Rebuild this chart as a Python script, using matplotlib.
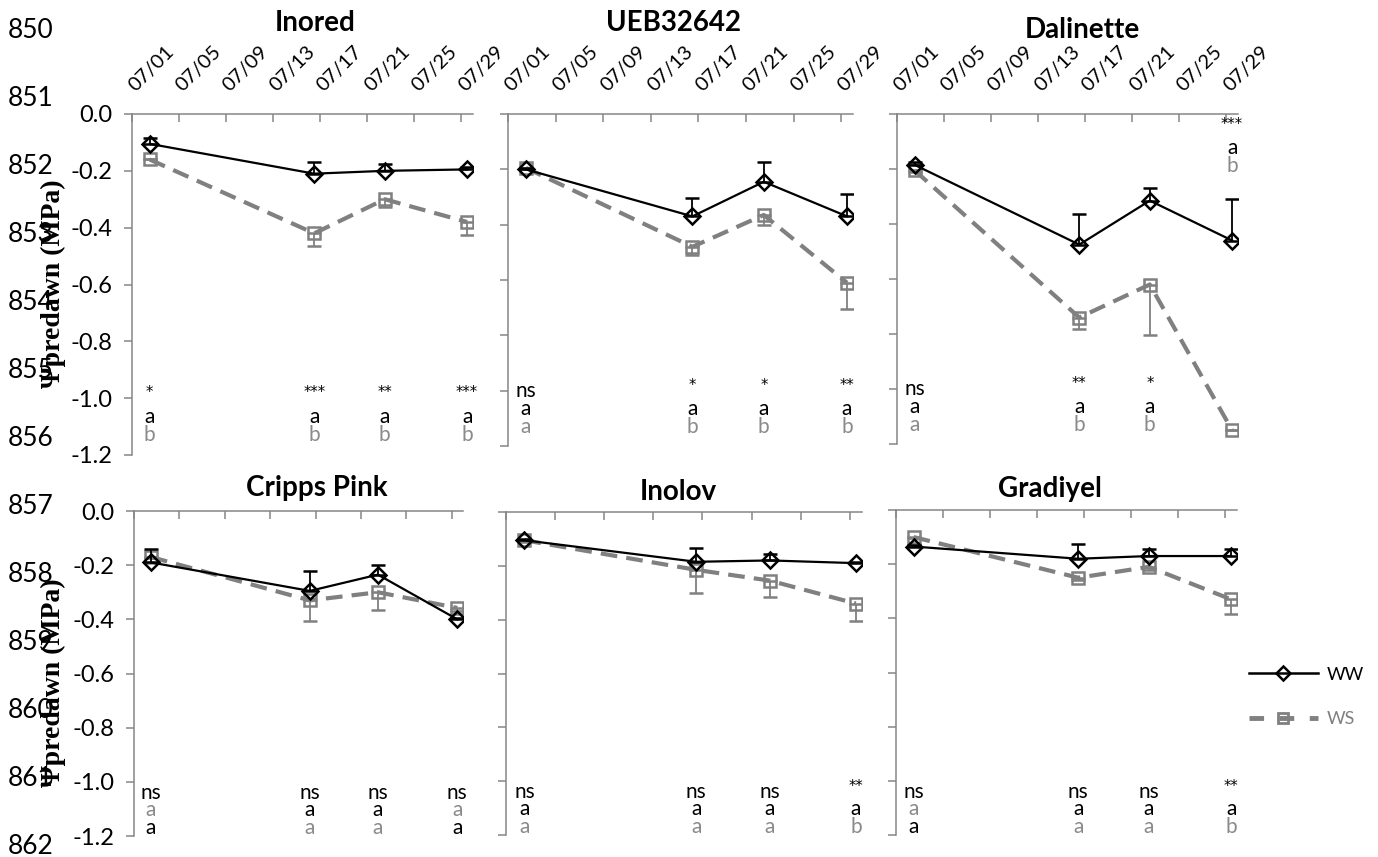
import numpy as np
import matplotlib.pyplot as plt
import matplotlib.transforms as mtransforms
from matplotlib.lines import Line2D

plt.rcParams['font.family'] = ['Lato', 'DejaVu Sans']

# ---- data -------------------------------------------------------------
cultivars = ['Inored', 'UEB32642', 'Dalinette', 'Cripps Pink', 'Inolov', 'Gradiyel']
days = [2, 16, 22, 29]                      # sampling dates, day of July
tick_days = [1, 5, 9, 13, 17, 21, 25, 29]
tick_labels = ['07/01', '07/05', '07/09', '07/13', '07/17', '07/21', '07/25', '07/29']
y_ticks = [0.0, -0.2, -0.4, -0.6, -0.8, -1.0, -1.2]

ww_mean = [[-0.105, -0.21, -0.20, -0.195],
           [-0.20, -0.37, -0.245, -0.37],
           [-0.185, -0.475, -0.315, -0.46],
           [-0.19, -0.295, -0.235, -0.40],
           [-0.105, -0.185, -0.18, -0.19],
           [-0.135, -0.18, -0.17, -0.17]]
ww_err = [[0.02, 0.04, 0.025, 0.01],
          [0.005, 0.065, 0.07, 0.08],
          [0.01, 0.11, 0.045, 0.15],
          [0.048, 0.075, 0.035, 0.005],
          [0.005, 0.05, 0.025, 0.005],
          [0.005, 0.055, 0.025, 0.025]]
ws_mean = [[-0.16, -0.42, -0.30, -0.38],
           [-0.195, -0.48, -0.365, -0.61],
           [-0.205, -0.74, -0.62, -1.15],
           [-0.17, -0.33, -0.30, -0.358],
           [-0.105, -0.215, -0.255, -0.34],
           [-0.10, -0.25, -0.21, -0.33]]
ws_err = [[0.0, 0.045, 0.028, 0.045],
          [0.005, 0.03, 0.035, 0.095],
          [0.005, 0.04, 0.185, 0.0],
          [0.005, 0.075, 0.065, 0.01],
          [0.005, 0.085, 0.06, 0.065],
          [0.005, 0.01, 0.01, 0.055]]

signif = [['*', '***', '**', '***'],
          ['ns', '*', '*', '**'],
          ['ns', '**', '*', '***'],
          ['ns', 'ns', 'ns', 'ns'],
          ['ns', 'ns', 'ns', '**'],
          ['ns', 'ns', 'ns', '**']]
ww_letter = [['a', 'a', 'a', 'a']] * 6
ws_letter = [['b', 'b', 'b', 'b'],
             ['a', 'b', 'b', 'b'],
             ['a', 'b', 'b', 'b'],
             ['a', 'a', 'a', 'a'],
             ['a', 'a', 'a', 'b'],
             ['a', 'a', 'a', 'b']]
ws_listed_first = [[False] * 4,
                   [False] * 4,
                   [False] * 4,
                   [True, False, False, True],
                   [False] * 4,
                   [True, False, False, False]]

line_numbers = [str(n) for n in range(850, 863)]

# ---- layout -----------------------------------------------------------
W, H = 1378, 857
panel_px = [(132, 114, 473, 455), (508, 114, 853, 446), (897, 114, 1238, 444),
            (134, 511, 463, 836), (506, 512, 862, 835), (896, 510, 1237, 835)]
title_px = [(315, 23), (673, 23), (1082, 30), (317, 488), (678, 492), (1050, 489)]
row_label_y = [-1.0, -1.04]       # height of the significance line per row
label_override = {(2, 3): -0.06}  # Dalinette last date is labelled above
step = 0.065

BLACK = '#000000'
GREY = '#808080'
LETTER_GREY = '#8a8a8a'
AXIS = '#868686'


def px_rect(x0, y0, x1, y1):
    return [x0 / W, 1 - y1 / H, (x1 - x0) / W, (y1 - y0) / H]


fig = plt.figure(figsize=(W / 100, H / 100), dpi=100)

for i, name in enumerate(cultivars):
    ax = fig.add_axes(px_rect(*panel_px[i]))
    row, col = divmod(i, 3)

    ax.errorbar(days, ws_mean[i], yerr=[ws_err[i], np.zeros(4)],
                color=GREY, lw=3, dashes=(4, 2.2), marker='s', ms=8.5,
                mfc='none', mec=GREY, mew=1.8, ecolor=GREY, elinewidth=1.3,
                capsize=5, capthick=1.3, zorder=2)
    ax.errorbar(days, ww_mean[i], yerr=[np.zeros(4), ww_err[i]],
                color=BLACK, lw=1.6, marker='D', ms=8.5, mfc='none',
                mec=BLACK, mew=1.8, ecolor=BLACK, elinewidth=1.3,
                capsize=5, capthick=1.3, zorder=3)

    ax.set_xlim(0.5, 29.5)
    ax.set_ylim(-1.2, 0)
    for s in ['right', 'bottom']:
        ax.spines[s].set_visible(False)
    for s in ['left', 'top']:
        ax.spines[s].set_color(AXIS)
        ax.spines[s].set_linewidth(1.1)

    # date axis along the top, ticks on the slot edges
    ax.xaxis.tick_top()
    ax.set_xticks([d - 0.5 for d in tick_days])
    ax.set_xticklabels([])
    ax.tick_params(axis='x', direction='in', length=6, width=1.1, color=AXIS)
    if row == 0:
        trans = mtransforms.blended_transform_factory(ax.transData, ax.transAxes)
        trans = trans + mtransforms.ScaledTranslation(4 / 100, 22 / 100, fig.dpi_scale_trans)
        for d, lab in zip(tick_days, tick_labels):
            ax.text(d - 0.5, 1, lab, transform=trans, fontsize=14.5, rotation=45,
                    rotation_mode='anchor', ha='left', va='baseline', clip_on=False)

    ax.set_yticks(y_ticks)
    ax.tick_params(axis='y', direction='out', length=6, width=1.1, color=AXIS, pad=8)
    if col == 0:
        ax.set_yticklabels([f'{v:.1f}' for v in y_ticks], fontsize=17)
    else:
        ax.set_yticklabels([])

    # significance and letters under each date
    for j, x in enumerate(days):
        y0 = label_override.get((i, j), row_label_y[row])
        s = signif[i][j]
        if s == 'ns':
            ax.text(x, y0, s, fontsize=15, ha='center', va='center', color=BLACK)
        else:
            ax.text(x, y0 + 0.02, s, fontsize=10.5, family='DejaVu Sans',
                    ha='center', va='center', color=BLACK)
        pair = [(ww_letter[i][j], BLACK), (ws_letter[i][j], LETTER_GREY)]
        if ws_listed_first[i][j]:
            pair.reverse()
        for k, (letter, c) in enumerate(pair):
            ax.text(x, y0 - step * (k + 1), letter, fontsize=15,
                    ha='center', va='center', color=c)

    tx, ty = title_px[i]
    fig.text(tx / W, 1 - ty / H, name, fontsize=20, fontweight='bold',
             ha='center', va='center')

# y-axis titles
for yc in [284, 683]:
    fig.text(53 / W, 1 - yc / H, 'Ψpredawn (MPa)', rotation=90,
             family='Liberation Serif', fontweight='bold', fontsize=20,
             ha='center', va='center')

# manuscript line numbers down the left margin
for lab, yc in zip(line_numbers, np.linspace(31, 847, len(line_numbers))):
    fig.text(8 / W, 1 - yc / H, lab, fontsize=19, ha='left', va='center')

handles = [Line2D([], [], color=BLACK, lw=1.8, marker='D', ms=7, mfc='none', mew=1.8),
           Line2D([], [], color=GREY, lw=3.5, dashes=(3, 3.2), marker='s', ms=7,
                  mfc='none', mew=2)]
fig.legend(handles, ['WW', 'WS'], loc='center left',
           bbox_to_anchor=(1249 / W, 1 - 697 / H), frameon=False, fontsize=13,
           borderpad=0, borderaxespad=0, handlelength=3.8, handletextpad=0.5,
           labelspacing=1.6, numpoints=1, labelcolor=[BLACK, GREY])

fig.savefig('out.png', dpi=100)
